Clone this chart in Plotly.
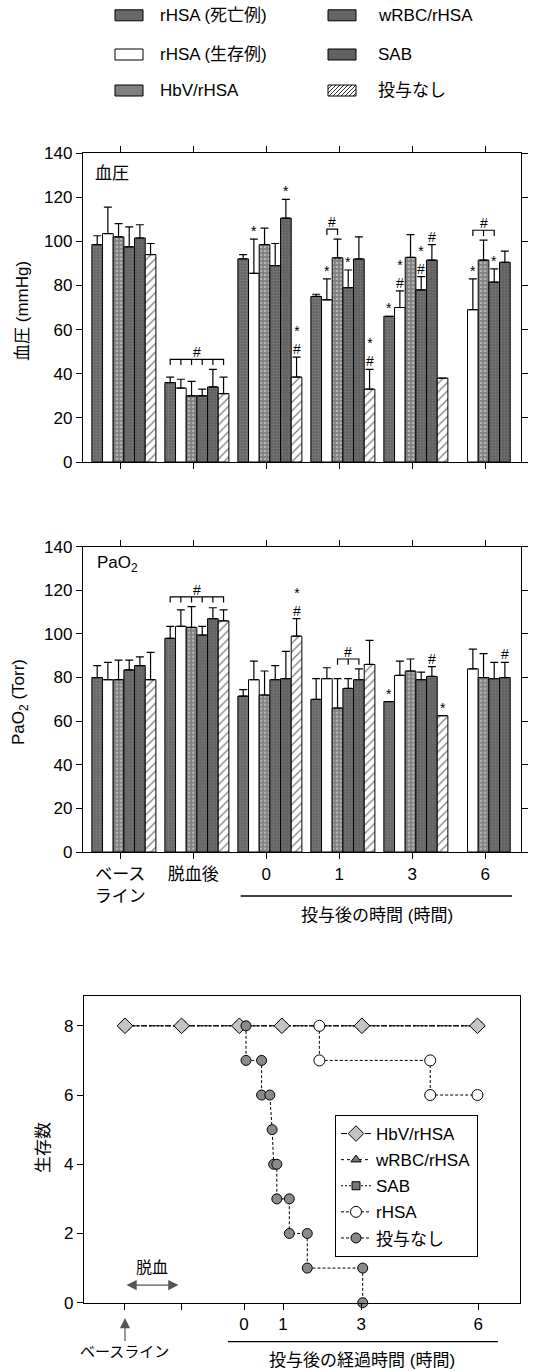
import plotly.graph_objects as go

# ---------------- data ----------------
categories = ["ベース<br>ライン", "脱血後", "0", "1", "3", "6"]
series_names = ["rHSA (死亡例)", "rHSA (生存例)", "HbV/rHSA", "wRBC/rHSA", "SAB", "投与なし"]

# blood pressure (mmHg): mean and +SD
bp_dead = [98.5, 36, 92, 75, 66, None]
bp_surv = [103.5, 33.5, 85.5, 73.5, 70, 69]
bp_hbv = [102, 30, 98.5, 92.5, 92.7, 91.5]
bp_wrbc = [97.5, 30, 89, 79, 78, 81.5]
bp_sab = [101.5, 34, 110.5, 92, 91.5, 90.5]
bp_none = [94, 31, 38.5, 33, 38, None]

bp_dead_err = [4, 2.5, 2, 1, 0, None]
bp_surv_err = [12, 4, 15.5, 9.5, 7.5, 14]
bp_hbv_err = [6, 6.5, 7.5, 8.5, 10.3, 9]
bp_wrbc_err = [9, 3, 10, 8, 6, 6]
bp_sab_err = [6, 8, 8.5, 10, 7, 5]
bp_none_err = [5, 7.5, 9, 9, 0, None]

# PaO2 (Torr): mean and +SD
po_dead = [80, 98, 71.5, 70, 69, None]
po_surv = [79, 103.5, 79, 79.5, 81, 84]
po_hbv = [79, 103, 72, 66, 83, 80]
po_wrbc = [83.5, 99.5, 79, 75, 79, 79.5]
po_sab = [85.5, 107, 79.5, 79, 80.5, 80]
po_none = [79, 106, 99, 86, 62.5, None]

po_dead_err = [5.5, 5.5, 3, 9.5, 0, None]
po_surv_err = [8, 7.5, 8.5, 5, 6.5, 9]
po_hbv_err = [9, 9.5, 11, 13.5, 5.5, 11]
po_wrbc_err = [4.5, 4, 6.5, 4.5, 3.5, 7.5]
po_sab_err = [4, 5, 12.5, 5, 4.5, 7]
po_none_err = [12.5, 5, 8, 11, 0, None]

# significance marks: (group index, series index, text)
bp_marks = [(2, 1, "*"), (2, 4, "*"), (2, 5, "*<br>#"),
            (3, 1, "*"), (3, 3, "*"), (3, 5, "*<br>#"),
            (4, 0, "*"), (4, 1, "*<br>#"), (4, 3, "*<br>#"), (4, 4, "#"),
            (5, 1, "*"), (5, 3, "*")]
bp_brackets = [(1, 0, 5), (3, 1, 2), (5, 1, 3)]
po_marks = [(2, 5, "*<br>#"), (4, 0, "*"), (4, 4, "#"), (4, 5, "*"), (5, 4, "#")]
po_brackets = [(1, 0, 5), (3, 2, 4)]

# survival (number alive) vs hours after administration
surv_names = ["HbV/rHSA", "wRBC/rHSA", "SAB", "rHSA", "投与なし"]
surv_hbv_t = [-3.05, -1.6, -0.12, 0.97, 3.02, 5.98]
surv_hbv_n = [8, 8, 8, 8, 8, 8]
surv_wrbc_t = [-3.05, -1.6, -0.12, 0.97, 3.02, 5.98]
surv_wrbc_n = [8, 8, 8, 8, 8, 8]
surv_sab_t = [-3.05, -1.6, -0.12, 0.97, 3.02, 5.98]
surv_sab_n = [8, 8, 8, 8, 8, 8]
surv_rhsa_t = [1.93, 1.93, 4.77, 4.77, 5.98]
surv_rhsa_n = [8, 7, 7, 6, 6]
surv_none_t = [0.05, 0.05, 0.45, 0.45, 0.66, 0.72, 0.76, 0.84, 0.84, 1.16, 1.16, 1.62, 1.62, 3.04, 3.04]
surv_none_n = [8, 7, 7, 6, 6, 5, 4, 4, 3, 3, 2, 2, 1, 1, 0]
surv_ticks = [-3.05, -1.6, 0, 1, 3, 6]
surv_ticktext = ["", "", "0", "1", "3", "6"]

# ---------------- layout helpers ----------------
W, H = 558, 1371
ML, MR, MT, MB = 83, 37, 0, 0
PW, PH = W - ML - MR, H - MT - MB


def fx(px):
    return (px - ML) / PW


def fy(py):
    return (H - MB - py) / PH


FONT = "Liberation Sans, Arial, Noto Sans CJK JP, sans-serif"
BARGAP = 0.123
NS = len(series_names)
BW = (1 - BARGAP) / NS


def bar_x(g, k):
    return g + (k - (NS - 1) / 2) * BW


bar_styles = [
    dict(color="#6c6c6c", pattern=dict(shape=".", fgcolor="#9a9a9a", bgcolor="#686868", size=3, solidity=0.25)),
    dict(color="white"),
    dict(color="#8c8c8c", pattern=dict(shape=".", fgcolor="#e6e6e6", bgcolor="#808080", size=4, solidity=0.35)),
    dict(color="#6a6a6a", pattern=dict(shape=".", fgcolor="#949494", bgcolor="#656565", size=3, solidity=0.25)),
    dict(color="#656565", pattern=dict(shape=".", fgcolor="#8e8e8e", bgcolor="#616161", size=3, solidity=0.25)),
    dict(color="white", pattern=dict(shape="/", fgcolor="black", bgcolor="white", size=6, solidity=0.22)),
]

fig = go.Figure()
xs = list(range(len(categories)))

panels = [
    ([bp_dead, bp_surv, bp_hbv, bp_wrbc, bp_sab, bp_none],
     [bp_dead_err, bp_surv_err, bp_hbv_err, bp_wrbc_err, bp_sab_err, bp_none_err],
     "x", "y", bp_marks, bp_brackets),
    ([po_dead, po_surv, po_hbv, po_wrbc, po_sab, po_none],
     [po_dead_err, po_surv_err, po_hbv_err, po_wrbc_err, po_sab_err, po_none_err],
     "x2", "y2", po_marks, po_brackets),
]

shapes = []
annotations = []
for vals, errs, xa, ya, marks, brackets in panels:
    for k in range(NS):
        st = bar_styles[k]
        marker = dict(color=st["color"], line=dict(color="black", width=1))
        if "pattern" in st:
            marker["pattern"] = st["pattern"]
        fig.add_trace(go.Bar(
            x=xs, y=vals[k], name=series_names[k], xaxis=xa, yaxis=ya,
            marker=marker, showlegend=False,
            error_y=dict(type="data", array=errs[k], arrayminus=[0] * len(xs),
                         symmetric=False, color="black", thickness=1.2, width=4),
        ))
    for g, k, txt in marks:
        top = vals[k][g] + (errs[k][g] or 0)
        annotations.append(dict(x=bar_x(g, k), y=top, xref=xa, yref=ya, text=txt,
                                showarrow=False, xanchor="center", yanchor="bottom",
                                font=dict(size=14), yshift=-2))
    for g, k0, k1 in brackets:
        level = max(vals[k][g] + (errs[k][g] or 0) for k in range(k0, k1 + 1)) + 4.5
        tick = 2.6
        xa0, xa1 = bar_x(g, k0), bar_x(g, k1)
        path = f"M{xa0},{level - tick} L{xa0},{level} L{xa1},{level} L{xa1},{level - tick}"
        for k in range(k0 + 1, k1):
            path += f" M{bar_x(g, k)},{level} L{bar_x(g, k)},{level - tick}"
        shapes.append(dict(type="path", path=path, xref=xa, yref=ya,
                           line=dict(color="black", width=1.2)))
        annotations.append(dict(x=(xa0 + xa1) / 2, y=level, xref=xa, yref=ya, text="#",
                                showarrow=False, xanchor="center", yanchor="bottom",
                                font=dict(size=14), yshift=-3))

# ---------------- survival chart ----------------
surv_data = [(surv_hbv_t, surv_hbv_n), (surv_wrbc_t, surv_wrbc_n), (surv_sab_t, surv_sab_n),
             (surv_rhsa_t, surv_rhsa_n), (surv_none_t, surv_none_n)]
surv_styles = [
    dict(symbol="diamond", size=12, color="#c4c4c4", dash="6px,2px"),
    dict(symbol="triangle-up", size=9, color="#777777", dash="3px,3px"),
    dict(symbol="square", size=8, color="#777777", dash="2px,2px"),
    dict(symbol="circle", size=11, color="white", dash="3px,2px"),
    dict(symbol="circle", size=10, color="#8a8a8a", dash="3px,2px"),
]
draw_order = [1, 2, 0, 3, 4]
for i in draw_order:
    t, n = surv_data[i]
    st = surv_styles[i]
    fig.add_trace(go.Scatter(
        x=t, y=n, name=surv_names[i], mode="lines+markers", xaxis="x3", yaxis="y3",
        line=dict(color="black", width=1, dash=st["dash"]),
        marker=dict(symbol=st["symbol"], size=st["size"], color=st["color"],
                    line=dict(color="black", width=1)),
        legendrank=i + 1, legendgroup=surv_names[i], cliponaxis=False,
    ))

# ---------------- axes ----------------
axis_common = dict(showline=True, linecolor="black", linewidth=1.3, ticks="outside",
                   ticklen=6, tickwidth=1.2, tickcolor="black", showgrid=False,
                   zeroline=False, tickfont=dict(size=17))
xrange_bars = [-0.56, 5.44]
tickpos = [i - 0.05 for i in xs]

layout_axes = dict(
    xaxis=dict(axis_common, domain=[0, 1], range=xrange_bars, tickvals=tickpos,
               showticklabels=False, mirror="ticks", anchor="y"),
    yaxis=dict(axis_common, domain=[fy(462), fy(153)], range=[0, 140], dtick=20,
               mirror="ticks", anchor="x"),
    xaxis2=dict(axis_common, domain=[0, 1], range=xrange_bars, tickvals=tickpos,
                ticktext=categories, mirror="ticks", anchor="y2"),
    yaxis2=dict(axis_common, domain=[fy(852), fy(546.7)], range=[0, 140], dtick=20,
                mirror="ticks", anchor="x2"),
    xaxis3=dict(axis_common, domain=[fx(84), fx(520)], range=[-4.1, 7.07],
                tickvals=surv_ticks, ticktext=surv_ticktext, mirror=True, anchor="y3"),
    yaxis3=dict(axis_common, domain=[fy(1302.7), fy(995.7)], range=[0, 8.87],
                tickvals=[0, 2, 4, 6, 8], mirror=True, anchor="x3"),
)

# ---------------- text / decorations ----------------
def paper_text(px, py, text, size=17, **kw):
    d = dict(x=fx(px), y=fy(py), xref="paper", yref="paper", text=text,
             showarrow=False, font=dict(size=size), xanchor="center", yanchor="middle")
    d.update(kw)
    return d


annotations += [
    paper_text(22, 311, "血圧 (mmHg)", textangle=-90),
    paper_text(20, 702, "PaO<sub>2</sub> (Torr)", textangle=-90),
    paper_text(43, 1148, "生存数", textangle=-90),
    paper_text(93, 174, "血圧", xanchor="left"),
    paper_text(95, 564, "PaO<sub>2</sub>", xanchor="left"),
    paper_text(377, 915, "投与後の時間 (時間)"),
    paper_text(362, 1360, "投与後の経過時間 (時間)"),
    paper_text(152, 1267, "脱血", size=16),
    dict(x=-1.68, y=0.51, ax=-3.05, ay=0.51, xref="x3", yref="y3", axref="x3", ayref="y3",
         text="", showarrow=True, arrowhead=2, arrowside="end+start", arrowsize=1.7,
         arrowwidth=1.2, arrowcolor="#555555"),
    dict(x=-3.05, y=fy(1318), xref="x3", yref="paper", text="ベースライン", font=dict(size=15),
         showarrow=True, ax=0, ay=33, arrowhead=2, arrowsize=1.7, arrowwidth=1.2,
         arrowcolor="#555555"),
]
shapes += [
    dict(type="line", xref="paper", yref="paper", x0=fx(240.7), x1=fx(512), y0=fy(896), y1=fy(896),
         line=dict(color="black", width=1.3)),
    dict(type="line", xref="paper", yref="paper", x0=fx(228), x1=fx(498), y0=fy(1341.7), y1=fy(1341.7),
         line=dict(color="black", width=1.3)),
]

# manual legend for the bar charts (2 columns x 3 rows)
legend_cols = [(115, 158), (328, 376)]
legend_rows = [15.3, 54.5, 90.5]
legend_cells = [(0, 0), (0, 1), (0, 2), (1, 0), (1, 1), (1, 2)]  # (column,row) per series
SW_W, SW_H = 28, 11
for k, (col, row) in enumerate(legend_cells):
    sx, tx = legend_cols[col]
    cy = legend_rows[row]
    st = bar_styles[k]
    fillc = st["pattern"]["bgcolor"] if ("pattern" in st and k != 5) else st["color"]
    shapes.append(dict(type="rect", xref="paper", yref="paper",
                       x0=fx(sx), x1=fx(sx + SW_W), y0=fy(cy + SW_H / 2), y1=fy(cy - SW_H / 2),
                       fillcolor=fillc, line=dict(color="black", width=1)))
    if k == 5:
        step = 4
        c = -SW_H
        while c < SW_W:
            t0 = max(0, -c)
            t1 = min(SW_H, SW_W - c)
            if t1 > t0:
                shapes.append(dict(type="line", xref="paper", yref="paper",
                                   x0=fx(sx + c + t0), y0=fy(cy + SW_H / 2 - t0),
                                   x1=fx(sx + c + t1), y1=fy(cy + SW_H / 2 - t1),
                                   line=dict(color="black", width=0.8)))
            c += step
    annotations.append(paper_text(tx, cy, series_names[k], xanchor="left"))

fig.update_layout(
    width=W, height=H,
    margin=dict(l=ML, r=MR, t=MT, b=MB, autoexpand=False),
    paper_bgcolor="white", plot_bgcolor="white",
    font=dict(family=FONT, size=17, color="black"),
    barmode="group", bargap=BARGAP, bargroupgap=0,
    showlegend=True,
    legend=dict(x=fx(335), y=fy(1115), xanchor="left", yanchor="top",
                bordercolor="black", borderwidth=1, bgcolor="white",
                font=dict(size=17), tracegroupgap=1, itemwidth=30),
    shapes=shapes, annotations=annotations,
    **layout_axes,
)

fig.write_html("out.html",
               config={"displayModeBar": False, "displaylogo": False},
               post_script="document.body.style.margin='0';document.body.style.padding='0';")
